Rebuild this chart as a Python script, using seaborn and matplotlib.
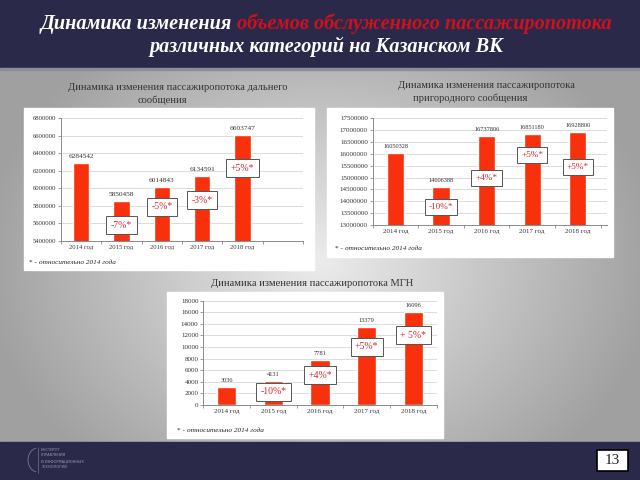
import numpy as np
import pandas as pd
import matplotlib
matplotlib.use("Agg")
import matplotlib.pyplot as plt
from matplotlib.patches import Rectangle, Arc
import seaborn as sns

# ---------------- data ----------------
years = ["2014 год", "2015 год", "2016 год", "2017 год", "2018 год"]

long_values = [6284542, 5850458, 6014843, 6134591, 6603747]
long_pct = ["-7%*", "-5%*", "-3%*", "+5%*"]
long_ticks = [5400000, 5600000, 5800000, 6000000, 6200000, 6400000, 6600000, 6800000]

sub_values = [16050328, 14606388, 16737806, 16851180, 16928800]
sub_pct = ["-10%*", "+4%*", "+5%*", "+5%*"]
sub_ticks = [13000000, 13500000, 14000000, 14500000, 15000000, 15500000,
             16000000, 16500000, 17000000, 17500000]

mgn_values = [3036, 4131, 7781, 13379, 16096]
mgn_pct = ["-10%*", "+4%*", "+5%*", "+ 5%*"]
mgn_ticks = [0, 2000, 4000, 6000, 8000, 10000, 12000, 14000, 16000, 18000]

title_white = "Динамика изменения"
title_red = "объемов обслуженного пассажиропотока"
title_line2 = "различных категорий на Казанском ВК"
chart1_title = ["Динамика изменения пассажиропотока дальнего", "сообщения"]
chart2_title = ["Динамика изменения пассажиропотока", "пригородного сообщения"]
chart3_title = "Динамика изменения пассажиропотока МГН"
footnote_star = "* - "
footnote_text = "относительно 2014 года"
page_number = "13"
logo_lines = ["ИНСТИТУТ", "УПРАВЛЕНИЯ", "И ИНФОРМАЦИОННЫХ", "ТЕХНОЛОГИЙ"]

# label-box positions (value coordinates of the boxes)
long_pct_y = [5579000, 5789000, 5865000, 6228000]
sub_pct_y = [13773000, 14969000, 15953000, 15461000]
mgn_pct_y = [2300, 5175, 10064, 12077]

# ---------------- style ----------------
sns.set_theme(style="white")
plt.rcParams["font.family"] = ["Liberation Serif", "DejaVu Serif"]

NAVY = "#2b2949"
BAR = "#f8300c"
RED_TXT = "#d8262b"
W, H = 640, 480

fig = plt.figure(figsize=(6.4, 4.8), dpi=100)

bg = fig.add_axes([0, 0, 1, 1], zorder=0)
bg.set_xlim(0, W)
bg.set_ylim(H, 0)
bg.axis("off")

# gradient background
yy, xx = np.mgrid[0:H, 0:W]
d = np.sqrt(((xx - 320) / 320.0) ** 2 + ((yy - 260) / 260.0) ** 2)
v = np.clip(236 - 72 * d, 160, 240) / 255.0
img = np.dstack([v, v, v])
bg.imshow(img, extent=(0, W, H, 0), aspect="auto", zorder=0)

# header / footer
bg.add_patch(Rectangle((0, 0), W, 68, color=NAVY, zorder=1))
bg.add_patch(Rectangle((0, 68), W, 2, color="#8d8c9a", zorder=1))
bg.add_patch(Rectangle((0, 442), W, 38, color=NAVY, zorder=1))

# header text
HFS = 14.6
bg.text(232, 24, title_white, color="white", fontsize=HFS, fontweight="bold",
        fontstyle="italic", ha="right", va="center", zorder=3)
bg.text(237, 24, title_red, color="#d0101e", fontsize=HFS, fontweight="bold",
        fontstyle="italic", ha="left", va="center", zorder=3)
bg.text(326, 47, title_line2, color="white", fontsize=HFS, fontweight="bold",
        fontstyle="italic", ha="center", va="center", zorder=3)

# white panels
for (l, t, r, b) in [(24, 108, 314, 270), (327, 108, 613, 257), (167, 292, 443, 438)]:
    bg.add_patch(Rectangle((l, t), r - l, b - t, color="white", zorder=2))

# chart titles
tkw = dict(color="#333333", fontsize=7.6, ha="center", va="center", zorder=3)
bg.text(178, 88, chart1_title[0], **tkw)
bg.text(162, 100, chart1_title[1], **tkw)
bg.text(486, 86, chart2_title[0], **tkw)
bg.text(470, 98, chart2_title[1], **tkw)
bg.text(312, 283, chart3_title, **tkw)

# footnotes
def footnote(x, y):
    t = bg.text(x, y, footnote_star, color="#222222", fontsize=5.2, ha="left",
                va="center", zorder=3)
    bg.annotate(footnote_text, xy=(1, 0.5), xycoords=t, color="#222222",
                fontsize=5.2, fontstyle="italic", ha="left", va="center", zorder=3)

footnote(29, 263)
footnote(335, 248)
footnote(177, 430)

# page number box
bg.add_patch(Rectangle((597, 450), 31, 21, facecolor="white", edgecolor="black",
                       linewidth=1.2, zorder=3))
bg.text(612.5, 460.5, page_number, fontsize=11, color="#222222", ha="center",
        va="center", zorder=4)

# logo
for i, s in enumerate(logo_lines):
    bg.text(41, 450 + i * 5.5, s, fontsize=2.6, color="#9a98b0", ha="left",
            va="center", zorder=3, family=["DejaVu Sans"])
bg.add_patch(Arc((38, 460), 20, 24, theta1=100, theta2=260, color="#8a88a0",
                 linewidth=0.5, zorder=3))
bg.plot([38, 38], [447, 473], color="#8a88a0", linewidth=0.4, zorder=3)


def px_axes(l, t, r, b):
    return fig.add_axes([l / W, 1 - b / H, (r - l) / W, (b - t) / H], zorder=5)


def draw_chart(ax, values, pct, pct_y, ticks, ylim, xlim, width,
               tick_fs, val_fs, pct_fs, fmt):
    df = pd.DataFrame({"year": years, "value": values})
    sns.barplot(data=df, x="year", y="value", color=BAR, saturation=1,
                width=width, ax=ax, zorder=3)
    ax.set_facecolor("none")
    ax.set_ylim(*ylim)
    ax.set_xlim(*xlim)
    ax.set_yticks(ticks)
    ax.set_yticklabels([fmt(t) for t in ticks])
    ax.set_xlabel("")
    ax.set_ylabel("")
    ax.yaxis.grid(True, color="#d6d6d6", linewidth=0.6, zorder=0)
    ax.xaxis.grid(False)
    ax.set_axisbelow(True)
    for s in ["top", "right"]:
        ax.spines[s].set_visible(False)
    for s in ["left", "bottom"]:
        ax.spines[s].set_color("#8a8a8a")
        ax.spines[s].set_linewidth(0.7)
    ax.tick_params(axis="y", labelsize=tick_fs, colors="#8a8a8a", labelcolor="#333333",
                   length=2, width=0.6, pad=1.5, left=True)
    ax.tick_params(axis="x", which="major", labelsize=tick_fs, labelcolor="#333333",
                   length=0, pad=3)
    n = int(np.floor(xlim[1] + 0.5))
    ax.set_xticks([i - 0.5 for i in range(0, n + 1)], minor=True)
    ax.tick_params(axis="x", which="minor", length=2.5, width=0.6, colors="#8a8a8a",
                   bottom=True)
    for i, v in enumerate(values):
        ax.annotate(str(v), xy=(i, v), xytext=(0, 3), textcoords="offset points",
                    ha="center", va="bottom", fontsize=val_fs, color="#333333",
                    annotation_clip=False)
    for i, (p, y) in enumerate(zip(pct, pct_y)):
        ax.text(i + 1, y, p, ha="center", va="center", fontsize=pct_fs,
                color=RED_TXT, zorder=6,
                bbox=dict(boxstyle="square,pad=0.45", facecolor="white",
                          edgecolor="#555555", linewidth=0.7))


ax1 = px_axes(61, 118.3, 303, 240.7)
draw_chart(ax1, long_values, long_pct, long_pct_y, long_ticks,
           (5400000, 6800000), (-0.5, 5.5), 0.41, 4.8, 5.3, 7,
           lambda t: f"{t:d}")

ax2 = px_axes(372.7, 118.3, 607, 225)
draw_chart(ax2, sub_values, sub_pct, sub_pct_y, sub_ticks,
           (13000000, 17500000), (-0.5, 4.64), 0.38, 5.0, 4.6, 6.6,
           lambda t: f"{t:d}")

ax3 = px_axes(203.3, 300.7, 436.7, 405)
draw_chart(ax3, mgn_values, mgn_pct, mgn_pct_y, mgn_ticks,
           (0, 18000), (-0.5, 4.5), 0.41, 5.0, 4.6, 7,
           lambda t: f"{t:d}")

fig.savefig("out.png", dpi=100)
